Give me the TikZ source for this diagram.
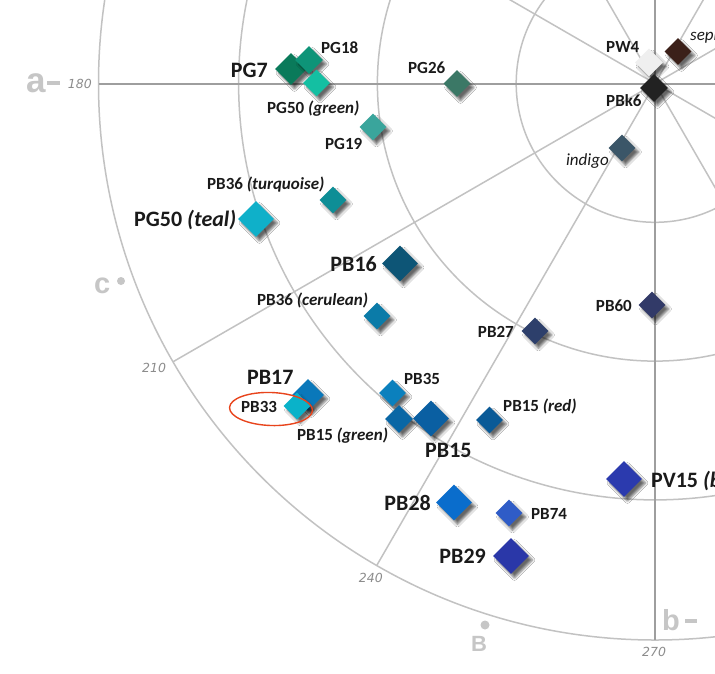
\documentclass[tikz,border=0pt]{standalone}
\usepackage{fontspec}
\setmainfont{Carlito}
\newfontfamily\axisfont{Liberation Sans}
\newfontfamily\numfont{DejaVu Sans}
\usetikzlibrary{shapes.geometric,shadows.blur}
\definecolor{gridc}{HTML}{C2C2C2}
\definecolor{axisc}{HTML}{9E9E9E}
\definecolor{letc}{HTML}{C6C6C6}
\definecolor{numc}{HTML}{8C8C8C}
\definecolor{txtc}{HTML}{1A1A1A}
\definecolor{ringc}{HTML}{E8441C}
\definecolor{cPGseven}{HTML}{0A7A5A}
\definecolor{cPGeighteen}{HTML}{0E9478}
\definecolor{cPGfiftyg}{HTML}{14BFA2}
\definecolor{cPGtwentysix}{HTML}{3B7866}
\definecolor{cPGnineteen}{HTML}{3AA59C}
\definecolor{cPBthirtysixt}{HTML}{0E8E96}
\definecolor{cPGfiftyt}{HTML}{0FB0C9}
\definecolor{cPBsixteen}{HTML}{0D5576}
\definecolor{cPBthirtysixc}{HTML}{0B7BA8}
\definecolor{cPBtwentyseven}{HTML}{2D3F6B}
\definecolor{cPBsixty}{HTML}{323A68}
\definecolor{cIndigo}{HTML}{3B5668}
\definecolor{cPBksix}{HTML}{222222}
\definecolor{cPWfour}{HTML}{EFEFEF}
\definecolor{cSepia}{HTML}{3B2019}
\definecolor{cPBseventeen}{HTML}{0A78BA}
\definecolor{cPBthirtythree}{HTML}{0AB2C9}
\definecolor{cPBfifteeng}{HTML}{0A67A5}
\definecolor{cPBthirtyfive}{HTML}{0B80BD}
\definecolor{cPBfifteen}{HTML}{0A5FA2}
\definecolor{cPBfifteenr}{HTML}{0A5A97}
\definecolor{cPVfifteen}{HTML}{2B3AAE}
\definecolor{cPBtwentyeight}{HTML}{0A6DCC}
\definecolor{cPBseventyfour}{HTML}{2F5CC7}
\definecolor{cPBtwentynine}{HTML}{2A37A8}
\tikzset{
  gridline/.style={draw=gridc, line width=1.5pt},
  axisline/.style={draw=axisc, line width=2pt},
  dbase/.style={shape=diamond, aspect=1, inner sep=0pt, draw=none,
    blur shadow={shadow xshift=3.5pt, shadow yshift=-4pt, shadow blur radius=2.5pt, shadow opacity=60}},
  dS/.style={dbase, minimum width=27pt, minimum height=27pt},
  dM/.style={dbase, minimum width=28pt, minimum height=28pt},
  dK/.style={dbase, minimum width=32pt, minimum height=32pt},
  dL/.style={dbase, minimum width=36pt, minimum height=36pt},
  lblS/.style={inner sep=0pt, text=txtc, font=\fontsize{17}{17}\selectfont\bfseries},
  lblL/.style={inner sep=0pt, text=txtc, font=\fontsize{22}{22}\selectfont\bfseries},
  lblI/.style={inner sep=0pt, text=txtc, font=\fontsize{17}{17}\selectfont\itshape},
  numlbl/.style={inner sep=0pt, text=numc, font=\numfont\fontsize{12.5}{12.5}\selectfont\itshape},
  letlbl/.style={inner sep=0pt, text=letc, font=\axisfont\bfseries},
  letdash/.style={draw=letc, line width=4pt},
  letdot/.style={fill=letc, draw=none},
  ring/.style={draw=ringc, line width=1.4pt}
}
\begin{document}
\begin{tikzpicture}[x=1pt,y=-1pt]
\useasboundingbox (0,0) rectangle (715,673);
\fill[white] (0,0) rectangle (715,673);
\clip (0,0) rectangle (715,673);
\coordinate (C) at (655,83.5);
% grid circles
\foreach \r in {138.8,277.6,416.4,556.5}
  \draw[gridline] (C) circle[radius=\r pt];
% spokes
\foreach \a in {30,60,120,150,210,240,300,330}
  \draw[gridline] (C) -- ++(\a:556.5pt);
% axes
\coordinate (aL) at ($(C)+(180:556.5pt)$);
\coordinate (aR) at (720,83.5);
\coordinate (aT) at (655,-5);
\coordinate (aB) at ($(C)+(270:556.5pt)$);
\draw[axisline] (aL) -- (aR);
\draw[axisline] (aT) -- (aB);
% axis letters
\node[letlbl, font=\axisfont\bfseries\fontsize{35}{35}\selectfont, anchor=base west] (la) at (26,92) {a};
\coordinate (laD1) at (47,82.5); \coordinate (laD2) at (60,82.5);
\draw[letdash] (laD1) -- (laD2);
\node[letlbl, font=\axisfont\bfseries\fontsize{29}{29}\selectfont, anchor=base west] (lc) at (94,293) {c};
\fill[letdot] (121,281) circle[radius=4pt];
\node[letlbl, font=\axisfont\bfseries\fontsize{22}{22}\selectfont, anchor=base west] (lB) at (471,651) {B};
\fill[letdot] (485,625) circle[radius=4.5pt];
\node[letlbl, font=\axisfont\bfseries\fontsize{29}{29}\selectfont, anchor=base west] (lb) at (662,630) {b};
\coordinate (lbD1) at (685,621); \coordinate (lbD2) at (697,621);
\draw[letdash] (lbD1) -- (lbD2);
% angle numbers
\node[numlbl, anchor=base east] (n180) at (92,88) {180};
\node[numlbl, anchor=base west] (n210) at (142,372) {210};
\node[numlbl, anchor=base east] (n240) at (383,582) {240};
\node[numlbl, anchor=base west] (n270) at (642,656) {270};
% diamonds
\node[dK, fill=cPGseven] (dPG7) at (291,69) {};
\node[dM, fill=cPGeighteen] (dPG18) at (309,60) {};
\node[dS, fill=cPGfiftyg] (dPG50g) at (316.5,83) {};
\node[dS, fill=cPGtwentysix] (dPG26) at (457,83.5) {};
\node[dS, fill=cPGnineteen] (dPG19) at (373,127) {};
\node[dS, fill=cPBthirtysixt] (dPB36t) at (333,200) {};
\node[dL, fill=cPGfiftyt] (dPG50t) at (256,219) {};
\node[dL, fill=cPBsixteen] (dPB16) at (400,263.5) {};
\node[dS, fill=cPBthirtysixc] (dPB36c) at (377,316) {};
\node[dS, fill=cPBtwentyseven] (dPB27) at (535,331) {};
\node[dS, fill=cPBsixty] (dPB60) at (652,305) {};
\node[dS, fill=cIndigo] (dIndigo) at (622,148) {};
\node[dM, fill=cPWfour] (dPW4) at (649,62.5) {};
\node[dS, fill=cSepia] (dSepia) at (678,51.5) {};
\node[dM, fill=cPBksix] (dPBk6) at (654,88) {};
\node[dK, fill=cPBseventeen] (dPB17) at (308,395) {};
\node[dS, fill=cPBthirtythree] (dPB33) at (297,406) {};
\node[dS, fill=cPBthirtyfive] (dPB35) at (392.5,393) {};
\node[dM, fill=cPBfifteeng] (dPB15g) at (399,419) {};
\node[dL, fill=cPBfifteen] (dPB15) at (431,418.5) {};
\node[dS, fill=cPBfifteenr] (dPB15r) at (489.5,420) {};
\node[dL, fill=cPVfifteen] (dPV15) at (624,479) {};
\node[dL, fill=cPBtwentyeight] (dPB28) at (454,502.5) {};
\node[dS, fill=cPBseventyfour] (dPB74) at (509,513) {};
\node[dL, fill=cPBtwentynine] (dPB29) at (511,556) {};
% labels
\node[lblL, anchor=base east] (tPG7) at (268,77) {PG7};
\node[lblS, anchor=base west] (tPG18) at (321,53) {PG18};
\node[lblS, anchor=base west] (tPG50g) at (267,113) {PG50 \textit{(green)}};
\node[lblS, anchor=base west] (tPG19) at (325,149) {PG19};
\node[lblS, anchor=base west] (tPG26) at (408,73) {PG26};
\node[lblS, anchor=base west] (tPB36t) at (207,189) {PB36 \textit{(turquoise)}};
\node[lblL, anchor=base west] (tPG50t) at (134,226) {PG50 \textit{(teal)}};
\node[lblL, anchor=base east] (tPB16) at (377,271) {PB16};
\node[lblS, anchor=base west] (tPB36c) at (257,305) {PB36 \textit{(cerulean)}};
\node[lblS, anchor=base east] (tPB27) at (514,337) {PB27};
\node[lblS, anchor=base east] (tPB60) at (632,311) {PB60};
\node[lblI, anchor=base east] (tIndigo) at (609,165) {indigo};
\node[lblS, anchor=base west] (tPBk6) at (606,106) {PBk6};
\node[lblS, anchor=base west] (tPW4) at (606,52) {PW4};
\node[lblI, anchor=base west] (tSepia) at (690,40) {sepia};
\node[lblL, anchor=base west] (tPB17) at (247,384) {PB17};
\node[lblS, anchor=base west] (tPB33) at (241,412) {PB33};
\node[lblS, anchor=base west] (tPB15g) at (297,440) {PB15 \textit{(green)}};
\node[lblS, anchor=base west] (tPB35) at (404,384) {PB35};
\node[lblS, anchor=base west] (tPB15r) at (503,411) {PB15 \textit{(red)}};
\node[lblL, anchor=base west] (tPB15) at (425,457) {PB15};
\node[lblL, anchor=base west] (tPV15) at (651,487) {PV15 \textit{(blue)}};
\node[lblL, anchor=base east] (tPB28) at (431,510) {PB28};
\node[lblS, anchor=base west] (tPB74) at (531,519) {PB74};
\node[lblL, anchor=base east] (tPB29) at (486,563) {PB29};
% hand-drawn ring around PB33
\draw[ring, rotate around={-2:(271,409)}] (271,409) ellipse [x radius=41.5pt, y radius=16.5pt];
\end{tikzpicture}
\end{document}
